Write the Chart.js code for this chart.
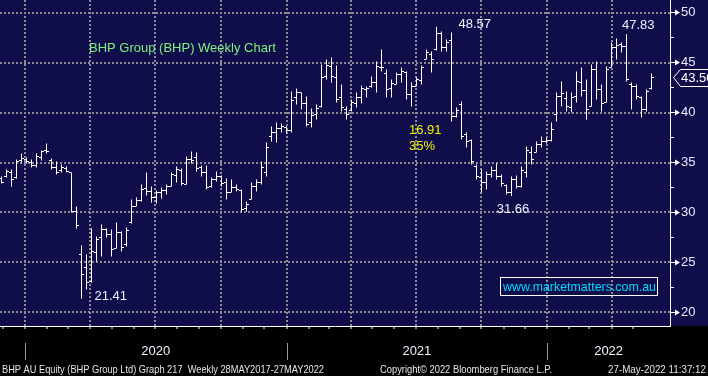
<!DOCTYPE html>
<html>
<head>
<meta charset="utf-8">
<script src="https://cdn.jsdelivr.net/npm/chart.js@4.4.0/dist/chart.umd.min.js"></script>
<style>
  html, body { margin: 0; padding: 0; background: #000; }
</style>
</head>
<body>
<canvas id="bhpChart" width="708" height="376"></canvas>
<script>
// weekly bars, first one is the week ending 29 Nov 2019
const firstWeek = '2019-11-29';

const opens = [
  33.4, 33.6, 34.0, 33.5, 35.2, 35.3, 35.0, 34.7, 35.5, 36.2,
  35.2, 34.5, 34.2, 34.4, 34.0, 30.1, 25.8, 24.5, 23.1, 26.0,
  27.5, 28.3, 27.8, 26.4, 28.0, 26.8, 29.0, 30.6, 31.2, 32.4,
  32.1, 31.5, 32.0, 32.2, 32.6, 33.7, 34.2, 32.8, 35.3, 35.5,
  34.5, 34.0, 32.6, 33.3, 33.6, 33.0, 32.0, 32.5, 32.2, 30.4,
  31.3, 32.6, 33.0, 34.0, 37.6, 38.0, 38.4, 38.5, 38.2, 41.5,
  42.0, 40.9, 39.0, 39.8, 40.6, 43.6, 44.6, 43.5, 41.5, 40.3,
  40.2, 40.9, 41.5, 42.3, 42.6, 43.0, 44.5, 43.9, 42.4, 42.8,
  43.8, 44.0, 41.8, 42.6, 43.2, 45.3, 45.8, 46.3, 47.9, 46.5,
  47.2, 39.6, 40.8, 37.8, 37.2, 34.6, 33.5, 33.0, 33.8, 34.2,
  33.6, 32.7, 32.0, 33.3, 32.6, 34.0, 36.0, 36.0, 36.8, 37.1,
  37.2, 39.8, 41.6, 41.4, 40.5, 41.6, 43.0, 42.2, 40.6, 44.3,
  42.3, 41.0, 44.5, 46.5, 46.8, 46.6, 42.8, 42.6, 41.5, 40.3,
  42.4
];
const highs = [
  33.6, 34.3, 34.3, 35.3, 35.9, 35.5, 35.3, 35.9, 36.2, 36.9,
  35.4, 35.1, 34.8, 34.6, 34.0, 30.6, 26.7, 25.8, 28.4, 27.6,
  28.8, 28.4, 28.3, 29.0, 28.1, 28.5, 31.3, 31.5, 32.8, 34.0,
  32.6, 32.2, 32.5, 32.8, 34.0, 34.6, 34.4, 35.6, 36.1, 36.0,
  34.7, 34.7, 33.5, 34.1, 33.7, 33.4, 33.3, 32.8, 32.3, 31.1,
  33.0, 33.3, 35.1, 37.0, 38.6, 39.0, 38.9, 38.6, 42.1, 42.4,
  42.0, 41.6, 40.4, 40.8, 44.8, 45.3, 45.5, 44.7, 42.8, 40.6,
  41.3, 42.0, 42.7, 42.6, 43.6, 45.1, 46.3, 44.3, 43.3, 44.0,
  44.5, 44.1, 43.0, 43.5, 44.7, 46.3, 46.1, 48.57, 48.1, 47.3,
  48.0, 40.5, 41.1, 38.0, 37.3, 34.8, 34.3, 34.1, 34.6, 34.9,
  33.8, 32.8, 33.6, 33.7, 34.6, 36.6, 36.6, 37.1, 37.6, 37.5,
  39.0, 42.0, 43.1, 42.1, 42.0, 44.1, 44.5, 43.3, 44.8, 45.1,
  42.8, 44.6, 47.0, 47.4, 47.0, 47.83, 43.0, 42.8, 41.6, 42.3,
  43.9
];
const lows = [
  32.9, 33.5, 32.6, 33.4, 35.0, 34.9, 34.5, 34.5, 35.2, 35.9,
  34.3, 33.8, 34.0, 34.0, 30.0, 28.4, 21.41, 22.3, 23.0, 25.1,
  25.6, 27.5, 25.6, 26.4, 26.1, 26.6, 28.9, 30.6, 31.1, 31.7,
  31.0, 30.9, 31.4, 31.8, 32.6, 33.0, 32.7, 32.8, 34.9, 34.1,
  33.6, 32.3, 32.5, 33.1, 32.6, 31.3, 32.0, 32.1, 30.1, 30.1,
  31.3, 32.1, 32.8, 33.6, 37.1, 37.0, 38.0, 37.9, 38.0, 40.8,
  40.3, 38.6, 38.5, 39.3, 40.5, 43.3, 43.0, 41.0, 40.1, 39.3,
  40.1, 40.5, 40.9, 41.5, 42.5, 42.0, 44.1, 41.5, 41.5, 42.8,
  43.0, 41.3, 40.6, 42.6, 42.8, 45.3, 44.0, 46.2, 46.1, 46.1,
  39.1, 39.5, 37.3, 36.5, 34.8, 33.3, 32.0, 32.3, 33.5, 33.3,
  32.6, 31.8, 31.66, 32.4, 32.5, 33.5, 34.8, 36.0, 36.5, 36.9,
  37.1, 39.1, 40.6, 40.1, 40.0, 41.0, 41.6, 39.3, 40.6, 41.3,
  40.1, 41.0, 44.5, 45.3, 46.0, 43.1, 40.3, 41.3, 39.5, 40.1,
  42.3
];
const closes = [
  33.0, 34.1, 33.3, 35.1, 35.4, 35.1, 34.7, 35.6, 36.1, 36.1,
  34.5, 34.0, 34.5, 34.1, 30.1, 28.7, 23.8, 23.0, 26.1, 27.3,
  28.3, 27.8, 26.3, 28.0, 26.5, 28.2, 30.6, 31.2, 32.3, 32.1,
  31.5, 32.0, 32.2, 32.6, 33.8, 34.3, 32.9, 35.3, 35.2, 34.4,
  34.0, 32.5, 33.3, 33.6, 32.9, 32.0, 32.5, 32.3, 30.3, 30.8,
  32.6, 33.0, 34.5, 36.5, 38.0, 38.4, 38.6, 38.2, 41.2, 42.0,
  40.9, 38.8, 39.7, 40.4, 43.5, 44.7, 43.6, 41.3, 40.5, 39.8,
  41.0, 41.5, 42.4, 42.4, 43.0, 44.6, 44.5, 42.3, 42.9, 43.8,
  44.1, 41.8, 42.6, 43.3, 44.5, 46.0, 45.3, 47.9, 46.5, 47.0,
  39.6, 40.2, 37.6, 37.1, 35.1, 33.6, 33.0, 33.8, 34.2, 33.6,
  32.9, 32.0, 33.3, 32.6, 34.2, 36.2, 35.3, 36.8, 37.1, 37.2,
  38.3, 41.6, 41.9, 40.6, 41.5, 43.1, 42.2, 40.3, 44.3, 42.3,
  40.9, 44.3, 46.5, 46.7, 46.6, 43.3, 42.6, 41.6, 40.3, 42.1,
  43.5
];

const yearLabels = ['2020', '2021', '2022'];
const priceTicks = [20, 22.5, 25, 27.5, 30, 32.5, 35, 37.5, 40, 42.5, 45, 47.5, 50];

const footLeft = 'BHP AU Equity (BHP Group Ltd) Graph 217  Weekly 28MAY2017-27MAY2022';
const footMid = 'Copyright\u00a9 2022 Bloomberg Finance L.P.';
const footRight = '27-May-2022 11:37:12';

const NAVY = '#0f0e4b';
const GRID = '#8c8c94';
const FONT = '"Liberation Sans", Arial, sans-serif';
const X_MIN = -0.3, X_MAX = 133.7;

// position on the x axis (in weeks) of a calendar date
const weekPos = d => (Date.parse(d) - Date.parse(firstWeek)) / (7 * 864e5);

// month ticks, quarter gridlines and centred year labels
const xTicks = [];
for (let t = Date.UTC(2019, 11, 1); t <= Date.UTC(2022, 4, 1); ) {
  const d = new Date(t);
  const m = d.getUTCMonth();
  xTicks.push({ value: weekPos(d.toISOString().slice(0, 10)), kind: m % 3 === 0 ? 'q' : 'm', label: '' });
  t = Date.UTC(d.getUTCFullYear(), m + 1, 1);
}
yearLabels.forEach(yr => {
  const a = Math.max(weekPos(yr + '-01-01'), X_MIN);
  const b = Math.min(weekPos((+yr + 1) + '-01-01'), X_MAX);
  xTicks.push({ value: (a + b) / 2, kind: 'y', label: yr });
});
xTicks.sort((a, b) => a.value - b.value);

// little open / close ticks as point images
function tickImage(side) {
  const c = document.createElement('canvas');
  c.width = 5; c.height = 1;
  const g = c.getContext('2d');
  g.fillStyle = '#ffffff';
  g.fillRect(side === 'left' ? 0 : 3, 0, 2, 1);
  return c;
}

const decor = {
  id: 'decor',
  beforeDraw(chart) {
    const { ctx, chartArea, width, height } = chart;
    ctx.save();
    ctx.fillStyle = NAVY;
    ctx.fillRect(0, 0, width, chartArea.bottom);
    ctx.fillStyle = '#000';
    ctx.fillRect(0, chartArea.bottom, width, height - chartArea.bottom);
    ctx.restore();
  },
  afterDraw(chart) {
    const { ctx, chartArea } = chart;
    const xs = chart.scales.x, ys = chart.scales.y;
    const R = chartArea.right;
    ctx.save();

    // price axis arrows
    ctx.fillStyle = '#fff';
    ctx.strokeStyle = '#fff';
    ctx.lineWidth = 1;
    priceTicks.forEach(v => {
      const py = Math.floor(ys.getPixelForValue(v)) + 0.5;
      const major = v % 5 === 0;
      ctx.beginPath();
      ctx.moveTo(R, py);
      ctx.lineTo(R + (major ? 6 : 4), py);
      ctx.stroke();
      if (major) {
        ctx.beginPath();
        ctx.moveTo(R + 5, py - 3);
        ctx.lineTo(R + 10, py);
        ctx.lineTo(R + 5, py + 3);
        ctx.closePath();
        ctx.fill();
      }
    });

    // year separators under the axis
    ctx.strokeStyle = '#9a9a9a';
    yearLabels.forEach(yr => {
      const px = Math.round(xs.getPixelForValue(weekPos(yr + '-01-01'))) + 0.5;
      ctx.beginPath();
      ctx.moveTo(px, 343);
      ctx.lineTo(px, 360);
      ctx.stroke();
    });

    // annotations
    ctx.textBaseline = 'middle';
    ctx.textAlign = 'left';
    ctx.font = '13px ' + FONT;
    ctx.fillStyle = '#7ef07e';
    ctx.fillText('BHP Group (BHP) Weekly Chart', 89, 48);

    const iTop1 = highs.indexOf(Math.max(...highs.slice(0, 100)));
    const iLow1 = lows.indexOf(Math.min(...lows));
    const iLow2 = lows.indexOf(Math.min(...lows.slice(iTop1)));
    const iTop2 = highs.lastIndexOf(Math.max(...highs.slice(iLow2)));
    ctx.fillStyle = '#eef3ff';
    ctx.fillText(lows[iLow1].toFixed(2), xs.getPixelForValue(iLow1) + 13, ys.getPixelForValue(lows[iLow1]) - 2);
    ctx.fillText(highs[iTop1].toFixed(2), xs.getPixelForValue(iTop1) + 22, ys.getPixelForValue(highs[iTop1]) - 2);
    ctx.fillText(highs[iTop2].toFixed(2), xs.getPixelForValue(iTop2) - 4.5, ys.getPixelForValue(highs[iTop2]) - 9);
    ctx.textAlign = 'center';
    ctx.fillText(lows[iLow2].toFixed(2), xs.getPixelForValue(iLow2) + 1.5, ys.getPixelForValue(lows[iLow2]) + 14);

    const drop = highs[iTop1] - lows[iLow2];
    ctx.textAlign = 'left';
    ctx.fillStyle = '#f2f200';
    ctx.fillText(drop.toFixed(2), 409, 130);
    ctx.fillText(Math.round(drop / highs[iTop1] * 100) + '%', 409, 146);

    // website box
    ctx.strokeStyle = '#fff';
    ctx.strokeRect(500.5, 277.5, 157, 18);
    ctx.fillStyle = '#00d8ff';
    ctx.fillText('www.marketmatters.com.au', 503, 287, 153);

    // last price tag
    const last = closes[closes.length - 1];
    const py = Math.floor(ys.getPixelForValue(last)) + 0.5;
    ctx.beginPath();
    ctx.moveTo(R + 3.5, py);
    ctx.lineTo(R + 10.5, py - 8);
    ctx.lineTo(chart.width + 2, py - 8);
    ctx.lineTo(chart.width + 2, py + 9);
    ctx.lineTo(R + 10.5, py + 9);
    ctx.closePath();
    ctx.fillStyle = NAVY;
    ctx.fill();
    ctx.stroke();
    ctx.fillStyle = '#fff';
    ctx.fillText(last.toFixed(2), R + 11, py + 1);

    // footer
    ctx.font = '11px "Liberation Sans Narrow", ' + FONT;
    ctx.fillStyle = '#e6e6e6';
    ctx.textBaseline = 'alphabetic';
    ctx.fillText(footLeft, 2, 373, 322);
    ctx.fillText(footMid, 380, 373, 172);
    ctx.textAlign = 'right';
    ctx.fillText(footRight, 706, 373, 98);
    ctx.restore();
  }
};

new Chart(document.getElementById('bhpChart').getContext('2d'), {
  type: 'bar',
  data: {
    datasets: [
      {
        type: 'bar',
        data: highs.map((h, i) => ({ x: i, y: [lows[i], h] })),
        backgroundColor: '#ffffff',
        borderWidth: 0,
        barThickness: 1,
        inflateAmount: 0
      },
      {
        type: 'scatter',
        data: opens.map((v, i) => ({ x: i, y: v })),
        pointStyle: tickImage('left'),
        pointRadius: 2,
        pointBorderWidth: 0
      },
      {
        type: 'scatter',
        data: closes.map((v, i) => ({ x: i, y: v })),
        pointStyle: tickImage('right'),
        pointRadius: 2,
        pointBorderWidth: 0
      }
    ]
  },
  options: {
    responsive: false,
    animation: false,
    events: [],
    layout: { padding: 0, autoPadding: false },
    plugins: { legend: { display: false }, tooltip: { enabled: false } },
    scales: {
      x: {
        type: 'linear',
        min: X_MIN,
        max: X_MAX,
        offset: false,
        afterBuildTicks: s => { s.ticks = xTicks.map(t => ({ value: t.value })); },
        afterFit: s => { s.height = 50; s.paddingLeft = 0; s.paddingRight = 0; },
        grid: {
          offset: false,
          lineWidth: 2,
          color: c => (xTicks[c.index] && xTicks[c.index].kind === 'q') ? GRID : 'transparent',
          tickLength: 3,
          tickWidth: 1,
          tickColor: c => (xTicks[c.index] && xTicks[c.index].kind !== 'y') ? '#ffffff' : 'transparent'
        },
        border: { display: true, color: '#ffffff', width: 1, dash: [2, 2] },
        ticks: {
          autoSkip: false,
          maxRotation: 0,
          padding: 15,
          color: '#f0f4ff',
          font: { family: FONT, size: 13 },
          callback: (v, i) => xTicks[i] ? xTicks[i].label : ''
        }
      },
      y: {
        position: 'right',
        min: 18.65,
        max: 51.25,
        afterBuildTicks: s => { s.ticks = priceTicks.map(v => ({ value: v })); },
        afterFit: s => { s.width = 38; s.paddingTop = 0; s.paddingBottom = 0; },
        grid: {
          lineWidth: 2,
          color: c => (c.tick && c.tick.value % 5 === 0) ? GRID : 'transparent',
          tickLength: 8,
          tickColor: 'transparent'
        },
        border: { display: true, color: '#ffffff', width: 1, dash: [2, 2] },
        ticks: {
          padding: 3,
          color: '#e8ecff',
          font: { family: FONT, size: 13 },
          callback: v => v % 5 === 0 ? String(v) : ''
        }
      }
    }
  },
  plugins: [decor]
});
</script>
</body>
</html>
